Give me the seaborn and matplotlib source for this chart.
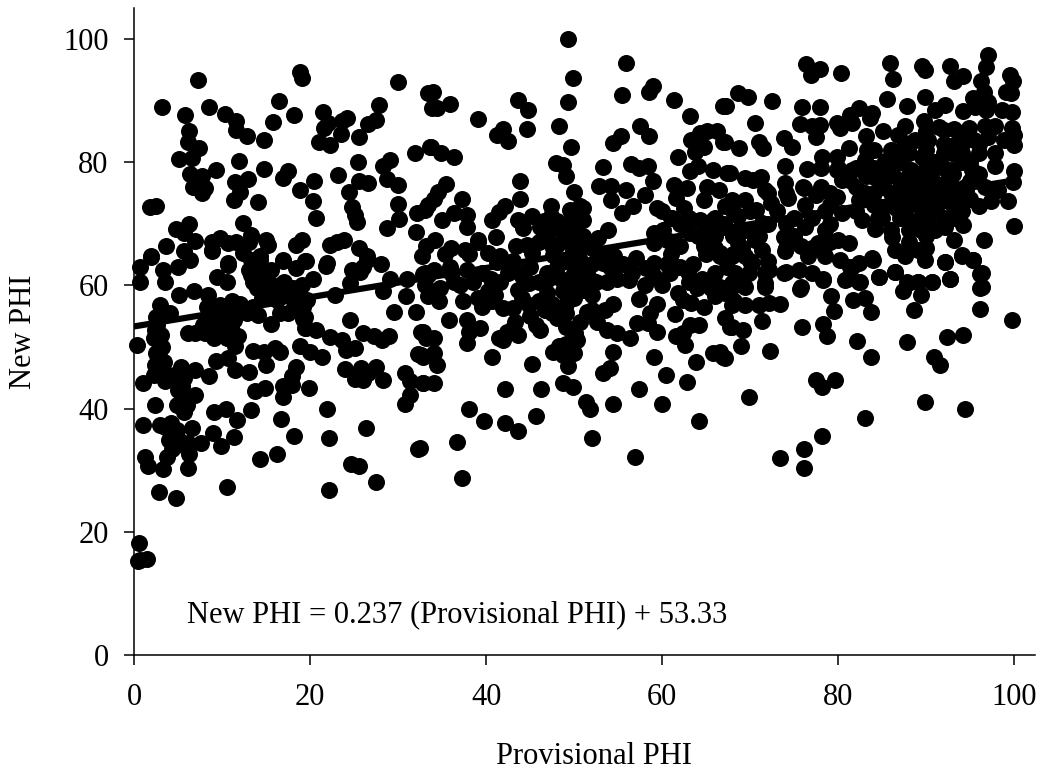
import matplotlib
matplotlib.use('Agg')
import matplotlib.pyplot as plt
import numpy as np
import seaborn as sns

# values, one pair of lists per region of the plot
low_top_x = [
    7.2, 3.2, 5.8, 8.5, 10.3, 11.6, 11.6, 12.8, 14.7, 15.8,
    16.4, 18.1, 18.8, 19.1, 21.4, 22.0, 21.5, 21.0, 22.2, 23.5,
    24.2, 23.6, 25.5, 26.5, 27.5, 27.8, 30.0, 33.4, 31.9, 33.6,
    33.8, 6.2, 6.1, 7.4, 6.5, 5.1, 11.9, 9.3, 14.7, 6.3,
    7.7, 6.7, 8.0, 7.7, 11.4, 12.9, 12.0, 11.3, 14.0, 17.5,
    16.9, 18.8, 20.4, 20.3, 20.6, 23.2, 25.4, 25.5, 26.6, 24.4,
    24.7, 25.1, 25.3, 28.3, 29.1, 28.7, 30.0, 30.0, 30.1, 28.7,
    32.1, 33.4, 32.0, 1.8, 2.5, 4.7, 6.2, 3.6, 5.6, 6.9,
    5.6, 1.9, 8.8, 8.8, 9.7, 10.6, 11.6, 12.4, 13.3, 13.0,
    15.0, 15.2, 12.4, 14.3, 19.0, 18.4, 22.2, 23.0, 23.8, 25.5,
    26.4, 16.9, 19.4, 21.9, 10.7,
]
low_top_y = [
    93.3, 88.9, 87.7, 89.0, 87.8, 86.7, 85.2, 84.3, 83.6, 86.5,
    89.9, 87.7, 94.6, 93.7, 88.2, 86.3, 85.5, 83.3, 82.8, 84.6,
    87.1, 86.6, 84.0, 86.2, 86.8, 89.2, 93.0, 91.2, 81.4, 82.5,
    88.7, 85.1, 83.3, 82.3, 80.6, 80.5, 80.1, 78.7, 78.9, 78.0,
    77.7, 76.0, 75.8, 74.9, 76.8, 77.3, 75.1, 73.9, 73.5, 78.5,
    77.4, 75.5, 76.9, 73.7, 71.0, 77.9, 80.0, 76.9, 76.6, 75.2,
    72.7, 71.4, 70.2, 79.4, 80.4, 77.3, 76.3, 73.2, 70.7, 69.3,
    71.7, 73.1, 68.7, 72.7, 72.8, 69.1, 69.9, 66.3, 68.5, 67.2,
    65.5, 64.7, 67.1, 65.7, 67.6, 66.8, 67.1, 70.1, 68.2, 67.1,
    67.4, 66.6, 65.2, 64.7, 67.3, 66.6, 66.6, 67.1, 67.3, 66.0,
    64.7, 64.1, 63.9, 63.6, 63.6,
]

low_mid_x = [
    1.9, 0.6, 0.6, 3.3, 3.5, 5.0, 6.3, 8.8, 10.7, 5.1,
    6.8, 9.4, 10.5, 8.4, 11.1, 8.3, 13.3, 14.3, 13.3, 15.0,
    13.9, 16.6, 16.9, 18.4, 19.5, 20.3, 21.8, 24.7, 25.6, 26.4,
    24.5, 29.1, 28.3, 30.9, 29.5, 32.0, 32.7, 33.0, 33.4, 22.8,
    18.4, 19.6, 16.2, 2.9, 2.5, 4.1, 2.2, 0.3, 2.5, 2.7,
    2.2, 1.0, 5.3, 6.9, 8.5, 5.4, 6.9, 5.4, 5.6, 2.3,
    1.0, 2.9, 4.2, 6.5, 3.9, 6.1, 7.6, 8.9, 9.9, 11.3,
    1.2, 1.6, 3.7, 3.3, 6.2, 6.1, 2.8, 4.7, 10.5, 22.1,
    27.5, 24.6, 25.5, 14.3, 16.2, 18.2, 22.1, 26.3, 32.2, 21.9,
    16.7, 13.3, 11.7, 10.4, 9.1, 13.7, 14.8, 16.9, 16.9, 17.9,
    17.9, 18.4, 19.8, 23.9, 25.1, 26.0, 25.8, 27.5, 28.3, 26.6,
    30.8, 31.3, 31.3, 30.8, 32.8, 32.6, 32.2, 32.6, 33.2, 13.0,
    11.4, 9.3, 10.7, 13.5, 15.0, 14.7, 16.0, 16.5, 18.8, 20.0,
    21.3, 15.5, 24.5, 26.0, 27.2, 28.1, 28.9, 25.1, 24.1, 23.6,
    22.2, 20.7, 19.4, 19.4, 11.8, 11.4, 6.1, 6.9, 8.0, 7.8,
    9.4, 10.5, 11.3, 14.1, 12.8, 9.7, 13.5, 18.1, 19.2, 2.4,
    0.5, 0.7, 0.4, 1.4,
]
low_mid_y = [
    64.6, 62.9, 60.6, 62.5, 60.6, 63.0, 64.1, 65.5, 63.3, 58.4,
    59.0, 61.3, 60.5, 58.4, 57.4, 56.5, 64.1, 64.1, 61.7, 61.7,
    59.5, 60.1, 63.9, 62.8, 63.9, 61.1, 63.2, 62.5, 62.2, 64.1,
    60.3, 61.1, 59.0, 58.2, 55.7, 55.6, 64.7, 62.0, 58.2, 58.4,
    59.0, 57.6, 57.6, 56.8, 54.9, 55.5, 51.4, 50.3, 49.0, 47.1,
    45.5, 44.1, 46.8, 46.2, 45.2, 43.6, 42.2, 41.4, 39.4, 40.5,
    37.3, 37.3, 37.6, 36.8, 34.9, 34.4, 34.4, 36.0, 33.9, 35.4,
    32.2, 30.7, 32.2, 30.2, 32.7, 30.4, 26.5, 25.4, 27.2, 26.8,
    28.0, 31.0, 30.6, 31.8, 32.6, 35.6, 35.2, 36.9, 33.5, 40.0,
    38.3, 39.8, 38.1, 39.9, 39.5, 42.9, 43.3, 41.9, 43.6, 43.8,
    45.2, 46.7, 43.4, 46.4, 44.8, 44.6, 46.5, 46.7, 44.6, 45.7,
    45.7, 44.4, 42.2, 40.7, 44.1, 48.7, 48.9, 52.5, 51.4, 45.9,
    46.3, 47.7, 48.2, 49.4, 47.1, 49.2, 49.8, 49.2, 50.1, 49.2,
    48.3, 53.7, 54.4, 52.2, 51.8, 51.1, 51.8, 49.8, 49.5, 51.1,
    51.6, 52.8, 53.0, 54.9, 51.7, 50.1, 52.2, 52.2, 52.2, 53.6,
    54.4, 53.3, 54.4, 55.2, 55.5, 56.8, 56.5, 57.4, 56.5, 52.8,
    18.2, 15.4, 15.3, 15.6,
]

mid_top_x = [
    49.3, 49.8, 49.3, 48.3, 49.6, 47.9, 48.7, 49.0, 50.0, 55.9,
    55.4, 58.5, 58.9, 61.3, 63.2, 66.9, 57.5, 58.5, 55.3, 54.4,
    61.8, 53.3, 56.4, 57.3, 58.4, 58.9, 52.8, 54.2, 55.9, 54.2,
    55.4, 56.7, 58.0, 59.4, 61.3, 61.6, 62.8, 64.1, 63.1, 65.8,
    65.1, 64.7, 67.3, 66.4, 63.3, 64.3, 65.1, 66.2, 66.9, 63.7,
    64.7, 67.1, 33.9, 35.9, 34.4, 39.0, 43.6, 44.7, 44.6, 41.9,
    41.2, 42.5, 33.7, 34.9, 36.3, 35.4, 34.5, 34.0, 33.0, 37.2,
    36.3, 37.8, 35.0, 37.8, 43.8, 43.8, 42.1, 41.4, 40.6, 39.0,
    41.1, 37.6, 34.2, 33.2, 35.3, 43.6, 45.2, 44.2, 46.1, 47.3,
    47.4, 50.6, 49.5, 51.0, 48.7, 50.3, 53.8, 52.7, 61.1, 60.1,
    59.0, 43.4, 44.6, 40.2, 41.6, 45.2, 47.6, 64.3, 65.8, 63.1,
    65.1, 64.7, 62.0, 59.0, 60.5, 66.6, 49.1, 49.9, 51.0,
]
mid_top_y = [
    99.9, 93.7, 89.8, 85.9, 82.4, 79.9, 79.5, 77.7, 75.1, 96.0,
    90.8, 91.3, 92.4, 90.0, 87.4, 89.1, 85.8, 84.3, 84.3, 83.1,
    80.9, 79.2, 79.7, 79.0, 79.4, 77.0, 76.1, 76.1, 75.4, 73.9,
    71.8, 72.8, 74.7, 72.5, 76.3, 74.1, 75.8, 79.3, 78.5, 78.7,
    76.0, 73.9, 78.2, 75.5, 83.6, 84.7, 85.0, 85.0, 83.3, 81.7,
    82.5, 72.8, 91.3, 89.4, 88.7, 87.0, 90.1, 88.4, 85.4, 85.4,
    84.4, 83.4, 82.5, 81.4, 80.8, 76.4, 75.2, 74.0, 72.2, 74.0,
    71.7, 71.4, 70.6, 69.5, 77.0, 74.0, 72.8, 71.9, 70.6, 67.3,
    67.9, 65.7, 67.4, 66.3, 65.1, 70.6, 71.2, 69.3, 69.4, 72.8,
    71.2, 72.8, 72.2, 70.6, 68.7, 69.0, 69.0, 67.6, 70.9, 69.0,
    68.5, 66.3, 66.6, 65.2, 64.7, 65.2, 66.0, 70.6, 70.6, 68.5,
    67.6, 66.3, 66.3, 66.8, 67.4, 65.2, 67.4, 65.7, 66.8,
]

mid_low_x = [
    49.3, 48.7, 49.8, 51.3, 51.8, 52.0, 54.4, 56.9, 57.4, 60.0,
    60.4, 62.8, 64.2, 63.8, 65.8, 66.5, 66.9, 59.1, 54.4, 54.0,
    53.3, 48.3, 48.7, 47.6, 38.0, 39.7, 42.1, 43.6, 45.7, 42.1,
    46.2, 45.2, 40.6, 36.7, 37.2, 32.5, 37.8, 38.0, 39.3, 37.8,
    35.8, 34.6, 33.8, 34.7, 32.8, 34.0, 34.0, 34.4, 34.0, 32.8,
    32.8, 41.9, 41.4, 42.3, 43.6, 43.3, 46.1, 45.7, 46.7, 48.0,
    49.1, 50.1, 50.3, 50.6, 52.6, 53.5, 54.4, 53.7, 54.8, 56.3,
    57.1, 58.4, 59.4, 57.4, 59.4, 58.6, 61.4, 61.6, 62.6, 63.2,
    64.2, 62.4, 64.7, 63.3, 61.8, 63.9, 62.4, 66.0, 66.6, 67.1,
    67.7, 67.9, 37.4, 39.5, 40.6, 40.2, 41.9, 43.0, 44.8, 43.6,
    46.9, 48.7, 51.0, 51.4, 56.2, 54.8, 53.7, 58.2, 60.9, 62.9,
    33.4, 32.8, 35.9, 36.3, 37.8, 41.2, 43.8, 44.9, 47.6, 46.9,
    51.0, 53.3, 50.6, 59.0, 66.5, 67.3,
]
mid_low_y = [
    46.9, 44.1, 43.5, 41.0, 40.0, 35.2, 40.8, 32.2, 43.2, 40.7,
    45.4, 44.3, 38.0, 47.6, 49.0, 49.1, 48.3, 48.3, 49.1, 46.5,
    45.8, 50.1, 48.7, 49.2, 40.0, 38.0, 37.6, 36.3, 38.8, 43.2,
    43.1, 47.2, 48.3, 34.6, 28.8, 33.6, 50.6, 52.5, 53.0, 54.4,
    54.3, 57.4, 58.4, 59.5, 52.5, 51.4, 49.0, 47.1, 44.1, 44.1,
    48.4, 51.1, 51.4, 52.5, 51.9, 54.1, 52.8, 53.6, 56.0, 54.7,
    53.3, 52.2, 51.1, 54.1, 54.1, 56.0, 56.9, 52.8, 52.2, 51.4,
    53.8, 53.8, 52.5, 57.8, 56.9, 55.5, 55.3, 51.7, 50.3, 53.6,
    53.6, 52.2, 56.5, 57.1, 58.7, 59.5, 57.6, 58.2, 59.8, 54.7,
    53.3, 56.8, 57.4, 56.5, 57.4, 59.0, 56.3, 56.3, 56.8, 59.2,
    58.7, 59.0, 59.2, 55.7, 60.9, 61.1, 60.6, 62.8, 62.0, 62.2,
    61.7, 61.9, 63.0, 60.6, 62.5, 63.8, 62.0, 60.3, 64.9, 62.0,
    63.0, 63.6, 60.6, 63.6, 64.7, 63.0,
]

high_top_x = [
    76.3, 77.9, 76.9, 80.3, 85.9, 86.2, 89.5, 89.9, 92.7, 94.2,
    93.1, 97.0, 96.8, 96.2, 99.5, 99.8, 99.0, 99.6, 99.7, 98.6,
    96.5, 95.3, 97.0, 96.8, 95.5, 94.2, 92.1, 91.0, 89.8, 87.8,
    85.5, 68.6, 69.7, 72.5, 67.2, 75.9, 77.9, 70.5, 75.6, 77.9,
    77.0, 79.8, 81.3, 82.4, 83.8, 83.6, 81.5, 80.2, 77.5, 85.1,
    83.2, 87.6, 86.8, 89.7, 91.4, 93.2, 94.8, 96.7, 97.8, 99.7,
    100.0, 100.0, 98.8, 97.0, 95.4, 94.0, 93.2, 92.0, 90.2, 88.7,
    87.6, 67.1, 68.7, 71.0, 71.4, 73.8, 74.7, 81.2, 84.0, 83.3,
    79.8, 78.2, 83.0, 85.3, 86.8, 89.5, 92.9, 96.0, 97.8, 97.8,
    100.0, 99.8, 99.3, 100.0, 96.6, 73.9, 76.4, 71.2, 67.7, 69.4,
    70.3, 73.9, 76.1, 77.5, 71.7, 79.8, 81.5, 80.4, 81.2, 83.2,
    86.1, 88.3, 90.6, 92.9, 95.2, 87.6, 89.8, 92.1, 94.4, 96.7,
    98.2, 79.9, 82.3, 84.5, 86.8, 89.1, 91.4, 93.6, 96.0, 97.4,
    67.9, 69.4, 74.3, 72.4, 70.7, 76.2, 78.5, 80.4, 82.7, 84.2,
    86.1, 88.0, 90.2, 92.1, 94.2, 93.2, 89.4, 68.6, 67.1, 69.4,
    71.3, 73.8, 76.2, 78.5, 68.6, 70.5, 67.9, 69.4, 71.3, 73.9,
    75.8, 77.7, 80.0, 81.2, 76.6, 78.5, 80.2, 86.4, 89.1, 87.6,
    89.9, 92.1, 94.0, 95.3, 96.3, 83.8, 84.6, 86.4, 81.3, 82.3,
    80.8, 82.3, 78.3, 75.8, 74.1, 72.1, 70.2, 69.0, 67.9, 71.7,
    87.9, 89.1, 90.6, 92.7, 96.3,
]
high_top_y = [
    95.9, 95.1, 94.2, 94.4, 96.0, 93.5, 95.6, 95.0, 95.6, 93.9,
    93.1, 97.4, 95.5, 93.2, 94.2, 93.1, 91.3, 91.2, 88.2, 88.5,
    91.4, 90.4, 89.8, 88.5, 89.0, 88.3, 89.3, 88.5, 90.5, 89.1,
    90.2, 91.2, 90.6, 89.9, 89.1, 89.0, 89.0, 86.4, 86.2, 86.0,
    85.8, 86.3, 87.7, 88.7, 87.9, 87.1, 86.3, 85.5, 84.1, 85.1,
    84.3, 85.8, 84.4, 86.6, 85.7, 85.4, 85.5, 85.8, 85.8, 85.5,
    84.4, 82.8, 83.6, 84.1, 83.6, 84.1, 82.8, 85.2, 83.6, 83.6,
    83.1, 83.3, 82.3, 83.3, 82.3, 83.9, 82.5, 82.3, 82.0, 82.0,
    80.9, 80.8, 80.4, 80.1, 81.4, 80.9, 81.4, 81.4, 81.4, 79.3,
    78.5, 76.8, 73.6, 69.6, 67.3, 79.4, 78.8, 77.6, 78.2, 77.4,
    77.1, 76.6, 75.8, 74.6, 75.5, 78.7, 78.7, 77.1, 77.1, 77.7,
    78.2, 78.7, 78.7, 78.7, 78.7, 76.0, 76.6, 76.6, 76.0, 76.0,
    75.5, 74.4, 73.9, 72.8, 72.8, 73.3, 73.9, 74.4, 72.8, 73.6,
    73.9, 73.9, 74.1, 73.3, 72.2, 73.1, 72.0, 71.7, 70.6, 69.2,
    67.9, 70.6, 70.6, 69.5, 69.8, 67.4, 69.0, 71.2, 69.5, 69.0,
    70.1, 67.9, 69.5, 69.0, 66.8, 67.4, 64.7, 64.7, 65.7, 65.5,
    66.3, 66.8, 67.4, 66.8, 64.7, 64.7, 64.1, 65.7, 65.7, 64.7,
    64.1, 63.7, 64.9, 64.1, 62.0, 64.4, 61.4, 62.1, 63.0, 63.6,
    60.9, 60.6, 61.1, 59.8, 62.2, 62.5, 63.6, 61.4, 60.3, 60.3,
    60.3, 60.6, 60.6, 61.0, 59.8,
]

high_low_x = [
    99.7, 96.1, 96.1, 96.1, 95.3, 94.0, 92.7, 92.1, 90.6, 89.4,
    88.6, 87.3, 86.4, 87.8, 89.0, 84.6, 83.7, 83.0, 81.7, 79.2,
    79.5, 78.3, 78.7, 75.9, 82.1, 83.7, 87.8, 90.9, 91.6, 92.4,
    94.2, 77.5, 79.6, 78.2, 69.9, 89.8, 94.4, 83.0, 78.2, 76.1,
    73.4, 76.1, 72.2, 68.9, 67.1, 69.2, 67.9, 71.3, 73.4, 75.7,
    72.1, 71.0, 69.4, 68.1, 78.3, 81.0, 82.5, 81.5, 83.9, 71.7,
    71.7, 69.8, 68.3, 67.9, 69.4, 73.8, 75.5, 77.0, 67.1,
]
high_low_y = [
    54.4, 56.2, 59.6, 61.8, 64.1, 64.7, 61.0, 63.7, 60.5, 58.5,
    56.0, 59.0, 62.1, 60.5, 60.6, 61.4, 55.7, 57.9, 57.6, 58.2,
    55.9, 53.7, 51.7, 53.2, 50.9, 48.4, 50.8, 48.4, 47.0, 51.6,
    51.9, 44.6, 44.6, 43.5, 41.8, 41.1, 40.0, 38.5, 35.6, 33.5,
    32.0, 30.3, 49.4, 50.2, 48.2, 52.8, 53.3, 54.2, 57.0, 59.4,
    57.1, 56.8, 56.8, 57.4, 60.9, 61.1, 60.6, 63.0, 64.1, 59.8,
    62.0, 62.0, 62.0, 59.8, 59.8, 62.0, 62.5, 62.0, 58.7,
]

# solid black patches, where single points can only be estimated
dense_left_x = [
    2.6, 3.0, 3.2, 2.8, 3.4, 2.4, 3.6, 4.5, 3.5, 5.6,
    5.0, 5.8, 4.8, 6.0, 3.5, 4.4, 5.0, 4.3, 4.8, 5.5,
    13.0, 14.0, 15.5, 13.5, 14.5, 15.5, 16.0, 14.5, 17.0, 18.0,
    19.0, 17.0, 18.0, 19.2, 19.5, 17.5, 16.5, 8.8, 9.5, 10.0,
    10.5, 11.0, 9.0, 11.0, 12.0, 26.0, 28.0, 31.0, 33.0, 34.0,
    36.0, 37.0, 36.0, 38.0, 39.0,
]
dense_left_y = [
    53.5, 52.0, 50.0, 48.5, 47.5, 47.0, 45.5, 45.5, 44.5, 45.0,
    43.0, 42.0, 40.5, 40.5, 37.0, 36.0, 35.0, 33.5, 36.5, 34.0,
    62.5, 63.0, 62.5, 60.5, 60.0, 60.0, 58.5, 58.0, 60.5, 59.5,
    60.0, 58.5, 56.0, 54.5, 53.0, 55.5, 55.5, 55.0, 53.0, 55.5,
    51.5, 53.0, 51.5, 56.0, 57.0, 63.0, 63.5, 61.0, 60.0, 62.5,
    62.0, 60.0, 66.0, 65.0, 67.0,
]

dense_mid_x = [
    38.5, 39.5, 40.5, 41.5, 42.5, 43.0, 44.0, 45.0, 46.0, 47.0,
    48.0, 48.5, 49.0, 49.5, 50.0, 50.5, 51.5, 52.0, 52.5, 53.0,
    54.0, 54.5, 55.5, 56.5, 57.0, 58.0, 59.0, 60.0, 60.5, 61.0,
    62.0, 63.0, 63.5, 64.5, 65.0, 66.0, 65.5, 39.0, 41.0, 44.0,
    46.0, 47.5, 49.0, 50.0, 52.0, 52.0, 49.0, 47.5, 45.0, 43.0,
    49.0, 50.0, 46.0, 47.0, 48.0, 49.5, 50.0, 51.0, 52.0, 50.0,
    51.0, 49.0, 48.0, 46.5,
]
dense_mid_y = [
    60.5, 62.0, 61.0, 60.5, 62.0, 64.0, 61.5, 63.0, 60.5, 61.0,
    63.0, 61.0, 64.0, 60.0, 62.0, 64.5, 61.5, 63.5, 60.5, 65.0,
    63.0, 64.8, 63.5, 62.0, 64.5, 60.0, 61.5, 60.0, 63.5, 65.0,
    63.0, 60.5, 63.5, 61.0, 65.0, 62.0, 59.5, 58.0, 58.5, 58.0,
    57.5, 57.0, 57.0, 58.0, 58.5, 56.0, 55.5, 55.5, 55.0, 53.0,
    50.5, 49.0, 67.0, 68.5, 66.5, 68.5, 67.0, 68.0, 66.0, 71.0,
    72.5, 70.0, 70.5, 70.5,
]

dense_right_x = [
    60.0, 61.0, 62.0, 62.5, 63.0, 64.0, 65.0, 66.0, 66.0, 67.0,
    68.0, 68.0, 69.0, 70.0, 70.0, 71.0, 72.0, 73.0, 74.0, 75.0,
    75.0, 77.0, 79.0, 79.0, 77.0, 74.0, 72.0, 70.0, 68.0, 66.0,
    72.0, 74.0, 76.0, 78.0, 79.0, 79.0, 82.0, 83.0, 84.0, 85.0,
    86.0, 87.0, 88.0, 89.0, 90.0, 91.0, 92.0, 93.0, 94.0, 95.0,
    85.0, 87.0, 88.0, 89.0, 90.0, 91.0, 92.0, 93.0, 94.0, 95.0,
    96.0, 85.0, 87.0, 88.0, 90.0, 91.0, 92.0, 93.0, 88.0, 90.0,
    92.0, 94.0, 96.0, 86.0, 84.0, 82.0, 90.0, 88.0, 86.0, 84.0,
    82.0, 80.0, 78.0, 93.0, 87.0, 95.0, 84.0, 85.5, 86.5, 88.5,
    89.5, 90.5, 91.5, 92.5, 93.5, 94.5, 88.0, 90.0, 92.0, 94.0,
    86.0, 84.5, 87.5, 89.0, 91.0, 93.0,
]
dense_right_y = [
    72.0, 71.0, 70.0, 72.5, 71.0, 68.0, 69.0, 68.0, 71.0, 70.0,
    72.0, 68.0, 66.0, 69.0, 72.0, 68.0, 70.0, 72.0, 70.0, 71.0,
    68.0, 71.0, 70.0, 67.0, 66.0, 66.0, 64.0, 64.0, 65.0, 66.0,
    75.0, 75.0, 76.0, 76.0, 75.0, 73.0, 76.0, 75.0, 75.0, 76.0,
    75.0, 74.0, 73.0, 75.0, 74.0, 76.0, 75.0, 73.0, 72.0, 74.0,
    79.0, 80.0, 78.0, 78.0, 80.0, 80.0, 79.0, 78.0, 80.0, 80.0,
    78.0, 71.0, 71.0, 69.0, 68.0, 72.0, 71.0, 71.0, 83.0, 85.0,
    83.0, 83.0, 83.0, 82.0, 79.0, 79.0, 66.0, 67.0, 69.0, 73.0,
    72.0, 79.0, 79.0, 76.0, 77.0, 77.0, 77.5, 77.5, 72.5, 76.5,
    72.0, 77.5, 73.5, 77.0, 75.0, 75.5, 81.5, 82.0, 81.5, 81.5,
    73.0, 71.0, 81.0, 70.5, 69.0, 74.5,
]

prov_phi = (low_top_x + low_mid_x + mid_top_x + mid_low_x + high_top_x + high_low_x
            + dense_left_x + dense_mid_x + dense_right_x)
new_phi = (low_top_y + low_mid_y + mid_top_y + mid_low_y + high_top_y + high_low_y
           + dense_left_y + dense_mid_y + dense_right_y)

fit_x = [0, 100]
fit_y = [53.33, 77.03]
ticks = [0, 20, 40, 60, 80, 100]

sns.set_style('white')
plt.rcParams['font.family'] = ['Liberation Serif', 'DejaVu Serif']
plt.rcParams['text.color'] = 'black'

fig = plt.figure(figsize=(10.48, 7.72), dpi=100)
ax = fig.add_axes([134.3 / 1048, 1 - 655.0 / 772, (1035 - 134.3) / 1048, (655.0 - 8) / 772])

sns.scatterplot(x=np.array(prov_phi), y=np.array(new_phi), ax=ax, color='black',
                s=150, linewidth=0, clip_on=False, zorder=3)
sns.lineplot(x=fit_x, y=fit_y, ax=ax, color='black', linewidth=4.5, zorder=4)

ax.set_xlim(0, 102.35)
ax.set_ylim(0, 105)
ax.set_xticks(ticks)
ax.set_yticks(ticks)
ax.tick_params(axis='both', which='major', direction='out', length=7.5, width=1.1,
               color='black', labelsize=22, labelcolor='black', left=True, bottom=True)
ax.tick_params(axis='x', pad=13)
ax.tick_params(axis='y', pad=11)
for side in ['top', 'right']:
    ax.spines[side].set_visible(False)
for side in ['left', 'bottom']:
    ax.spines[side].set_color('black')
    ax.spines[side].set_linewidth(1.1)

fig.text(594 / 1048, 1 - 757 / 772, 'Provisional PHI', ha='center', va='center', fontsize=22)
fig.text(24 / 1048, 1 - 332 / 772, 'New PHI', ha='center', va='center', rotation=90, fontsize=22)
ax.text(6.0, 6.6, 'New PHI = 0.237 (Provisional PHI) + 53.33', ha='left', va='center', fontsize=22)

fig.savefig('out.png', dpi=100)
